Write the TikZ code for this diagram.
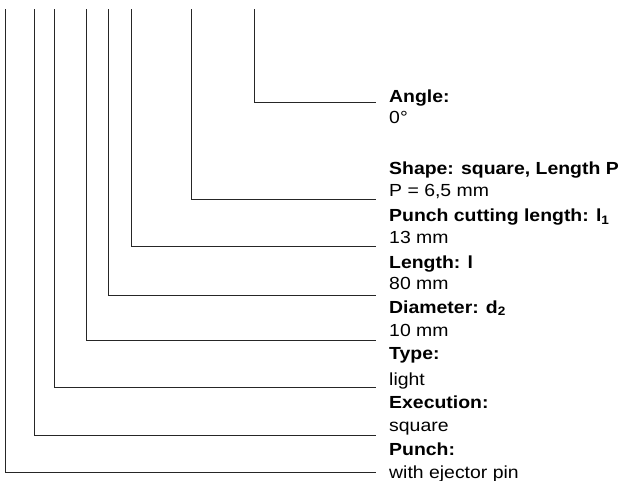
\documentclass[tikz,border=0pt]{standalone}
\usepackage{fontspec}
\setmainfont[FakeStretch=1.11]{Liberation Sans}
\usepackage{tikz}

\begin{document}
\begin{tikzpicture}[x=1pt,y=-1pt,
  ttl/.style={anchor=base west,inner sep=0pt,font=\fontsize{17.5}{20}\selectfont\bfseries},
  val/.style={anchor=base west,inner sep=0pt,font=\fontsize{17.5}{20}\selectfont},
  lead/.style={line width=1pt,black!85}]
  \useasboundingbox (0,0) rectangle (622,481);

  \node (angt) [ttl] at (389,102.7) {Angle:};
  \node (angv) [val] at (389,123.3) {0°};
  \node (shpt) [ttl] at (389,175) {Shape: square, Length P};
  \node (shpv) [val] at (389,196.7) {P = 6,5 mm};
  \node (pclt) [ttl] at (389,221.7) {Punch cutting length: l\textsubscript{1}};
  \node (pclv) [val] at (389,243.3) {13 mm};
  \node (lent) [ttl] at (389,268.3) {Length: l};
  \node (lenv) [val] at (389,290) {80 mm};
  \node (diat) [ttl] at (389,313.3) {Diameter: d\textsubscript{2}};
  \node (diav) [val] at (389,336.7) {10 mm};
  \node (typt) [ttl] at (389,360) {Type:};
  \node (typv) [val] at (389,385) {light};
  \node (exet) [ttl] at (389,408.3) {Execution:};
  \node (exev) [val] at (389,431.7) {square};
  \node (punt) [ttl] at (389,455) {Punch:};
  \node (punv) [val] at (389,478.3) {with ejector pin};

  \path (254,9.3) coordinate (angu) (376,103) coordinate (ange);
  \path (191.7,9.3) coordinate (shpu) (376,200) coordinate (shpe);
  \path (131.3,9.3) coordinate (pclu) (376,247) coordinate (pcle);
  \path (108.7,9.3) coordinate (lenu) (376,296) coordinate (lene);
  \path (86,9.3) coordinate (diau) (376,341) coordinate (diae);
  \path (54.3,9.3) coordinate (typu) (376,388) coordinate (type);
  \path (34.3,9.3) coordinate (exeu) (376,436) coordinate (exee);
  \path (5.7,9.3) coordinate (punu) (376,472) coordinate (pune);

  \draw[lead] (angu) |- (ange);
  \draw[lead] (shpu) |- (shpe);
  \draw[lead] (pclu) |- (pcle);
  \draw[lead] (lenu) |- (lene);
  \draw[lead] (diau) |- (diae);
  \draw[lead] (typu) |- (type);
  \draw[lead] (exeu) |- (exee);
  \draw[lead] (punu) |- (pune);
\end{tikzpicture}
\end{document}
